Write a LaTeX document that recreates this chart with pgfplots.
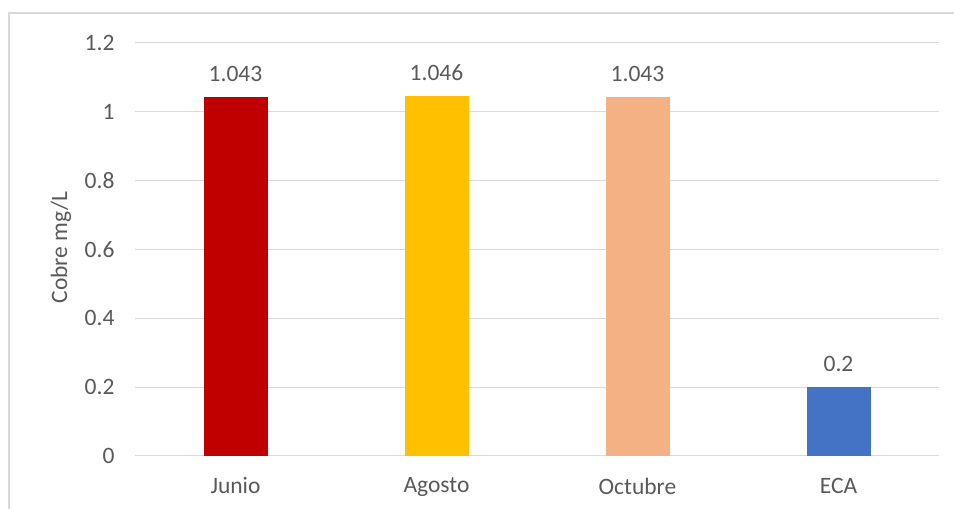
\documentclass[border=0pt]{standalone}
\usepackage{pgfplots}
\pgfplotsset{compat=1.18}
\usepackage{fontspec}
\setmainfont{Carlito}
\definecolor{txt}{HTML}{595959}
\definecolor{grd}{HTML}{D9D9D9}
\definecolor{c1}{HTML}{C00000}
\definecolor{c2}{HTML}{FFC000}
\definecolor{c3}{HTML}{F4B183}
\definecolor{c4}{HTML}{4472C4}
\begin{document}
\begin{tikzpicture}[x=1pt,y=1pt]
\useasboundingbox (0,0) rectangle (954,509);
\draw[color=grd, line width=1.5pt] (9,0) -- (9,496) -- (954,496);
\begin{axis}[
  at={(135pt,53pt)}, anchor=south west,
  scale only axis, width=804pt, height=413pt,
  xmin=-0.5, xmax=3.5, ymin=0, ymax=1.2,
  xtick={0,1,2,3}, xticklabels={Junio,Agosto,Octubre,ECA},
  ytick={0,0.2,0.4,0.6,0.8,1,1.2},
  yticklabels={0,0.2,0.4,0.6,0.8,1,1.2},
  ymajorgrids, grid style={grd, line width=1pt},
  axis line style={draw=none}, tick style={draw=none},
  ticklabel style={font=\fontsize{23.5}{28}\selectfont, text=txt},
  yticklabel style={xshift=-17pt},
  xticklabel style={yshift=-14pt},
  ylabel={Cobre mg/L},
  every axis y label/.style={at={(axis description cs:-0.092,0.505)}, rotate=90, anchor=center, font=\fontsize{23.5}{28}\selectfont, text=txt},
  ybar, bar width=64pt, bar shift=0pt,
  nodes near coords,
  nodes near coords style={font=\fontsize{23.5}{28}\selectfont, text=txt, yshift=12pt},
  point meta=explicit symbolic,
  /pgf/number format/assume math mode=true,
]
\addplot[fill=c1, draw=none] coordinates {(0,1.043) [1.043]};
\addplot[fill=c2, draw=none] coordinates {(1,1.046) [1.046]};
\addplot[fill=c3, draw=none] coordinates {(2,1.043) [1.043]};
\addplot[fill=c4, draw=none] coordinates {(3,0.2) [0.2]};
\end{axis}
\end{tikzpicture}
\end{document}
